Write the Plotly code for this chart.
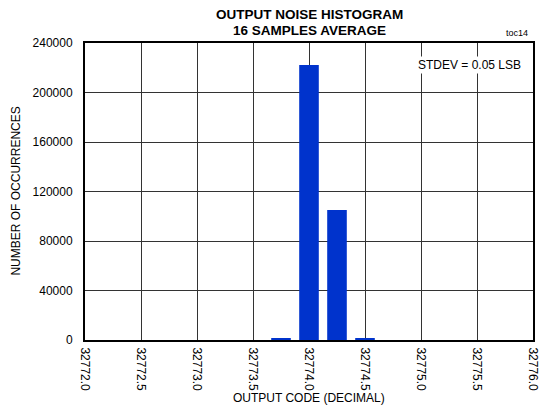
import plotly.graph_objects as go

# histogram bins (output code) and counts
codes = [32773.75, 32774.0, 32774.25, 32774.5]
counts = [1200, 222200, 105100, 900]

x_ticks = [32772.0, 32772.5, 32773.0, 32773.5, 32774.0, 32774.5, 32775.0, 32775.5, 32776.0]
y_ticks = [0, 40000, 80000, 120000, 160000, 200000, 240000]

font = "Liberation Sans, Arial, sans-serif"

fig = go.Figure()

fig.add_trace(go.Bar(x=codes, y=counts, width=0.175,
                     marker=dict(color="#0033cc", line=dict(width=0))))

# page body has an 8px margin, so the figure is a bit smaller than the window
fig.update_layout(
    width=539, height=399,
    margin=dict(l=77, r=14, t=35, b=67),
    paper_bgcolor="white",
    plot_bgcolor="white",
    showlegend=False,
    font=dict(family=font, size=12, color="black"),
    xaxis=dict(
        range=[32772, 32776],
        tickvals=x_ticks,
        ticktext=[f"{v:.1f}" for v in x_ticks],
        tickangle=90,
        showgrid=True, gridcolor="#333333", gridwidth=1,
        showline=True, linecolor="black", linewidth=2, mirror=True,
        zeroline=False,
        ticks="", ticklen=0,
        ticklabelstandoff=3,
        ticklabeloverflow="allow",
        tickfont=dict(size=12),
        automargin=False,
    ),
    yaxis=dict(
        range=[0, 240000],
        tickvals=y_ticks,
        ticktext=[str(v) for v in y_ticks],
        showgrid=True, gridcolor="#333333", gridwidth=1,
        showline=True, linecolor="black", linewidth=2, mirror=True,
        zeroline=False,
        ticks="", ticklen=0,
        ticklabelstandoff=8,
        ticklabeloverflow="allow",
        tickfont=dict(size=12),
        automargin=False,
    ),
    annotations=[
        dict(text="<b>OUTPUT NOISE HISTOGRAM</b>", x=0.5, y=1, xref="paper", yref="paper",
             xanchor="center", yanchor="middle", yshift=29, showarrow=False,
             font=dict(size=13.5)),
        dict(text="<b>16 SAMPLES AVERAGE</b>", x=0.5, y=1, xref="paper", yref="paper",
             xanchor="center", yanchor="middle", yshift=13, showarrow=False,
             font=dict(size=13.5)),
        dict(text="NUMBER OF OCCURRENCES", x=-0.156, y=0.5, xref="paper", yref="paper",
             xanchor="center", yanchor="middle", textangle=-90, showarrow=False,
             font=dict(size=12)),
        dict(text="OUTPUT CODE (DECIMAL)", x=0.5, y=-0.195, xref="paper", yref="paper",
             xanchor="center", yanchor="middle", showarrow=False,
             font=dict(size=12)),
        dict(text="STDEV = 0.05 LSB", x=0.859, y=0.925, xref="paper", yref="paper",
             xanchor="center", yanchor="middle", showarrow=False,
             bgcolor="white", font=dict(size=12)),
        dict(text="toc14", x=0.993, y=1, xref="paper", yref="paper",
             xanchor="right", yanchor="middle", yshift=10, showarrow=False,
             font=dict(size=9)),
    ],
)

fig.write_html("out.html")
